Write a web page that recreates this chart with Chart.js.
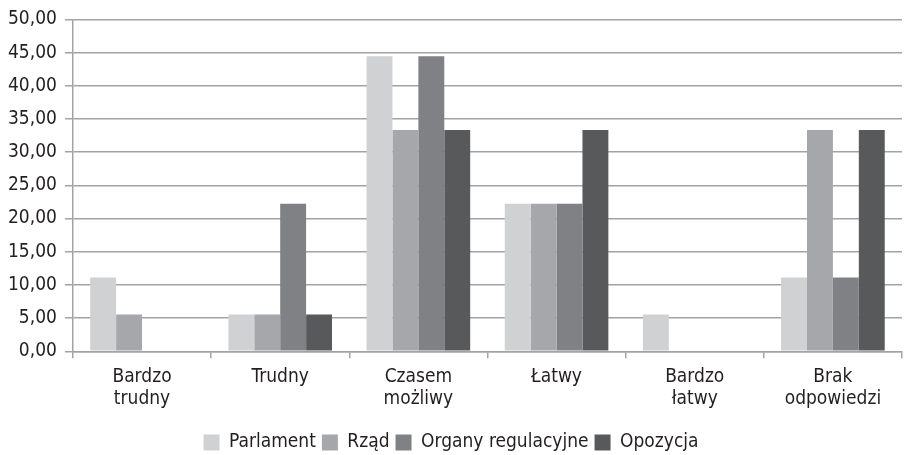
<!DOCTYPE html>
<html>
<head>
<meta charset="utf-8">
<script src="https://cdn.jsdelivr.net/npm/chart.js@4"></script>
<style>
  html, body { margin: 0; padding: 0; background: #fff; }
  #chart { display: block; }
</style>
</head>
<body>
<canvas id="chart" width="912" height="455"></canvas>
<script>
// categories (x axis), multi-line like the original
const categories = [
  ['Bardzo', 'trudny'],
  ['Trudny'],
  ['Czasem', 'możliwy'],
  ['Łatwy'],
  ['Bardzo', 'łatwy'],
  ['Brak', 'odpowiedzi']
];

// series values (%)
const parlament = [11.11, 5.56, 44.44, 22.22, 5.56, 11.11];
const rzad = [5.56, 5.56, 33.33, 22.22, 0, 33.33];
const organy = [0, 22.22, 44.44, 22.22, 0, 11.11];
const opozycja = [0, 5.56, 33.33, 33.33, 0, 33.33];

const seriesNames = ['Parlament', 'Rząd', 'Organy regulacyjne', 'Opozycja'];
const seriesColors = ['#d0d1d3', '#a6a7aa', '#808184', '#58595b'];

const FONT = "'DejaVu Sans Condensed', 'Liberation Sans Narrow', sans-serif";
const textColor = '#231f20';
const gridColor = '#a3a3a3';

const ctx = document.getElementById('chart').getContext('2d');
new Chart(ctx, {
  type: 'bar',
  data: {
    labels: categories,
    datasets: [parlament, rzad, organy, opozycja].map((data, i) => ({
      label: seriesNames[i],
      data,
      backgroundColor: seriesColors[i],
      borderWidth: 0,
      barPercentage: 1,
      categoryPercentage: 0.75
    }))
  },
  options: {
    responsive: false,
    animation: false,
    layout: { padding: { top: 8, right: 10, left: 0, bottom: -7 } },
    plugins: {
      tooltip: { enabled: false },
      legend: {
        position: 'bottom',
        labels: {
          font: { family: FONT, size: 19 },
          color: textColor,
          boxWidth: 16,
          boxHeight: 16,
          padding: 6
        }
      }
    },
    scales: {
      x: {
        grid: {
          drawOnChartArea: false,
          drawTicks: true,
          tickLength: 7,
          color: gridColor,
          lineWidth: 1.5
        },
        border: { color: gridColor, width: 1.5 },
        ticks: {
          font: { family: FONT, size: 19, lineHeight: 1.15 },
          color: textColor,
          maxRotation: 0,
          padding: 8
        },
        // leave room between the labels and the legend
        afterFit: (scale) => { scale.height += 9; }
      },
      y: {
        min: 0,
        max: 50,
        grid: {
          color: gridColor,
          lineWidth: 1.5,
          tickLength: 8
        },
        border: { color: gridColor, width: 1.5 },
        ticks: {
          stepSize: 5,
          font: { family: FONT, size: 19 },
          color: textColor,
          padding: 8,
          callback: v => v.toFixed(2).replace('.', ',')
        }
      }
    }
  }
});
</script>
</body>
</html>
